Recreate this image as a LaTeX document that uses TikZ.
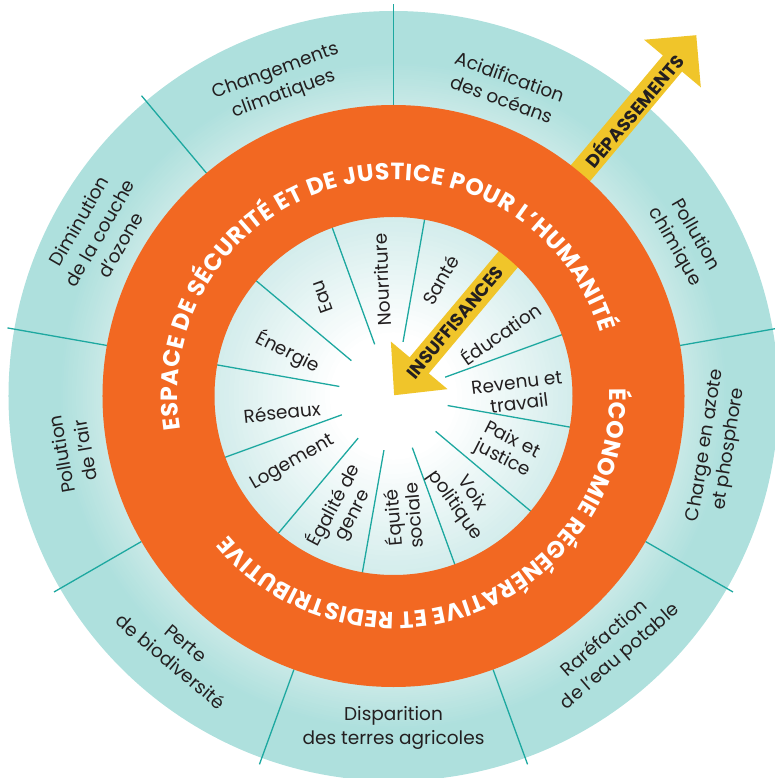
\documentclass[tikz,border=0pt]{standalone}
\usepackage{fontspec}
\setmainfont{Poppins}
\usetikzlibrary{decorations.text}
\definecolor{orng}{HTML}{F26822}
\definecolor{yel}{HTML}{F0C52A}
\definecolor{tealD}{HTML}{AEE0DD}
\definecolor{tealL}{HTML}{C9E9E7}
\definecolor{innerE}{HTML}{D4EDEC}
\definecolor{tline}{HTML}{1DA8A0}
\definecolor{ink}{HTML}{231F20}
\begin{document}
\begin{tikzpicture}[x=1pt,y=1pt,
  outerlbl/.style={align=center, font=\fontsize{18.5}{24}\selectfont, text=ink, inner sep=0pt},
  innerlbl/.style={align=center, font=\fontsize{18.5}{21}\selectfont, text=ink, inner sep=0pt},
  divider/.style={draw=tline, line width=1.3pt},
  arrowlbl/.style={font=\bfseries\fontsize{18}{18}\selectfont, text=ink, inner sep=0pt},
  yarrow/.style={fill=yel}]
\useasboundingbox (-393.5,-382) rectangle (381.5,396);
\clip (-393.5,-382) rectangle (381.5,396);
% outer teal ring with gradient
\fill[tealD] (0,0) circle (385);
\foreach \i in {0,...,20}{
  \pgfmathsetmacro\rr{335-\i*2.2}
  \pgfmathsetmacro\pp{\i*5}
  \fill[tealL!\pp!tealD] (0,0) circle (\rr);
}
% outer dividers
\foreach \a in {90,130,...,410}{
  \draw[divider] (\a:291) -- (\a:392);
}
% inner disk with gradient
\foreach \i in {0,...,24}{
  \pgfmathsetmacro\rr{179-\i*4.8}
  \pgfmathsetmacro\pp{\i*100/24}
  \fill[white!\pp!innerE] (0,0) circle (\rr);
}
% inner dividers
\foreach \a in {80,50,...,-250}{
  \draw[divider] (\a:55) -- (\a:180);
}
% arrows
\begin{scope}[rotate=50]
  \fill[yarrow] (265,-12.5) -- (434,-12.5) -- (434,-37) -- (471,0) -- (434,37) -- (434,12.5) -- (265,12.5) -- cycle;
  \fill[yarrow] (200,12.5) -- (40,12.5) -- (40,37) -- (1,0) -- (40,-37) -- (40,-12.5) -- (200,-12.5) -- cycle;
\end{scope}
% orange ring
\fill[orng, even odd rule] (0,0) circle (291) (0,0) circle (179);
% orange ring texts
\path[decorate, decoration={text along path, text color=white,
  text={|\bfseries\fontsize{23.5}{23.5}\selectfont|ESPACE DE SÉCURITÉ ET DE JUSTICE POUR L’HUMANITÉ},
  text align=fit to path}] (189:216) arc[start angle=189, end angle=17, radius=216];
\path[decorate, decoration={text along path, text color=white,
  text={|\bfseries\fontsize{23.5}{23.5}\selectfont|ÉCONOMIE RÉGÉNÉRATIVE ET REDISTRIBUTIVE},
  text align=fit to path}] (2:216) arc[start angle=2, end angle=-140, radius=216];
% arrow labels
\node[arrowlbl, rotate=50] (dep) at (50:373) {DÉPASSEMENTS};
\node[arrowlbl, rotate=50] (ins) at (50:96) {INSUFFISANCES};
% outer labels
\node[outerlbl, rotate=20]  (cc) at (110:333) {Changements\\climatiques};
\node[outerlbl, rotate=-20] (ao) at (70:328) {Acidification\\des océans};
\node[outerlbl, rotate=-60] (pc) at (28:330) {Pollution\\chimique};
\node[outerlbl, rotate=81]  (ca) at (-9:328) {Charge en azote\\et phosphore};
\node[outerlbl, rotate=41]  (re) at (-49:334) {Raréfaction\\de l’eau potable};
\node[outerlbl, rotate=0]   (dt) at (-90:332) {Disparition\\des terres agricoles};
\node[outerlbl, rotate=-40] (pb) at (-130:335) {Perte\\de biodiversité};
\node[outerlbl, rotate=100] (pa) at (190:325) {Pollution\\de l’air};
\node[outerlbl, rotate=60]  (dc) at (151:336) {Diminution\\de la couche\\d’ozone};
% inner labels
\node[innerlbl, rotate=110] (eau) at (125.8:122) {Eau};
\node[innerlbl, rotate=93]  (nou) at (95.7:117) {Nourriture};
\node[innerlbl, rotate=60]  (san) at (68:125) {Santé};
\node[innerlbl, rotate=35]  (edu) at (30.6:124) {Éducation};
\node[innerlbl, rotate=7]   (rev) at (1.4:124.5) {Revenu et\\travail};
\node[innerlbl, rotate=-27] (pai) at (-25.4:125.7) {Paix et\\justice};
\node[innerlbl, rotate=-55] (voi) at (-56:125) {Voix\\politique};
\node[innerlbl, rotate=95]  (equ) at (-86:121) {Équité\\sociale};
\node[innerlbl, rotate=62]  (ega) at (-113.9:124.7) {Égalité de\\genre};
\node[innerlbl, rotate=30]  (log) at (-146.3:120.8) {Logement};
\node[innerlbl, rotate=6]   (res) at (188.2:112.6) {Réseaux};
\node[innerlbl, rotate=-27] (ene) at (157.4:114.3) {Énergie};
\end{tikzpicture}
\end{document}
